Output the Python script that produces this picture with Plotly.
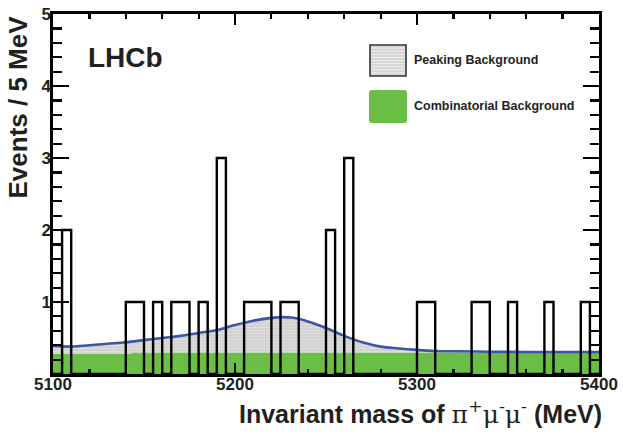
import re
import plotly.graph_objects as go

# ---------------- data ----------------
bin_start = 5100
bin_width = 5
counts = [0, 2, 0, 0, 0, 0, 0, 0, 1, 1,
          0, 1, 0, 1, 1, 0, 1, 0, 3, 0,
          0, 1, 1, 1, 0, 1, 1, 0, 0, 0,
          2, 0, 3, 0, 0, 0, 0, 0, 0, 0,
          1, 1, 0, 0, 0, 0, 1, 1, 0, 0,
          1, 0, 0, 0, 1, 0, 0, 0, 1, 0]

fit_mass = [5100, 5110, 5120, 5130, 5140, 5150, 5160, 5170, 5180, 5190, 5200,
            5210, 5220, 5226, 5232, 5240, 5250, 5260, 5270, 5280, 5290, 5300,
            5310, 5320, 5340, 5360, 5380, 5400]
fit_total = [0.39, 0.38, 0.40, 0.42, 0.44, 0.47, 0.50, 0.53, 0.57, 0.61, 0.68,
             0.74, 0.78, 0.79, 0.78, 0.73, 0.64, 0.53, 0.44, 0.38, 0.355, 0.335,
             0.32, 0.315, 0.31, 0.305, 0.305, 0.305]

comb_mass = [5100, 5143, 5143, 5400]
comb_vals = [0.28, 0.28, 0.30, 0.30]

x_ticks = [5100, 5200, 5300, 5400]
y_ticks = [1, 2, 3, 4, 5]

legend_labels = ["Peaking Background", "Combinatorial Background"]

# ---------------- styles ----------------
FONT = "Liberation Sans, Arial, Helvetica, sans-serif"
TXT = "#231f20"
GREEN = "#6abd45"
BLUE = "#3b56a6"

edges = [bin_start + i * bin_width for i in range(len(counts) + 1)]
step_y = counts + [counts[-1]]

fig = go.Figure()

# combinatorial background (green)
fig.add_trace(go.Scatter(
    x=comb_mass, y=comb_vals, mode="lines",
    line=dict(width=0, color=GREEN),
    fill="tozeroy", fillcolor=GREEN, hoverinfo="skip", showlegend=False))

# peaking background (gray striped) up to total fit (blue line)
fig.add_trace(go.Scatter(
    x=fit_mass, y=fit_total, mode="lines",
    line=dict(width=2.6, color=BLUE, shape="spline", smoothing=1.0),
    fill="tonexty", fillcolor="#d6d6d6",
    fillpattern=dict(shape="-", bgcolor="#d2d2d2", fgcolor="#ededed",
                     size=3, solidity=0.3),
    hoverinfo="skip", showlegend=False))

# data histogram (black step outline)
fig.add_trace(go.Scatter(
    x=edges, y=step_y, mode="lines",
    line=dict(width=2.4, color="black", shape="hv"),
    hoverinfo="skip", showlegend=False))

# ---------------- layout ----------------
L, R, T, B = 53, 24, 14, 64
W, H = 623, 438
pw, ph = W - L - R, H - T - B


def px(xp):
    return (xp - L) / pw


def py(yp):
    return (H - B - yp) / ph


fig.update_layout(
    width=W, height=H, autosize=False,
    margin=dict(l=L, r=R, t=T, b=B, pad=0, autoexpand=False),
    paper_bgcolor="white", plot_bgcolor="white",
    font=dict(family=FONT, color=TXT),
)

fig.update_xaxes(
    range=[5100, 5400], tickvals=x_ticks, ticktext=[str(v) for v in x_ticks],
    ticks="inside", ticklen=11, tickwidth=2.4, tickcolor="black",
    showline=True, linewidth=2.6, linecolor="black", mirror="ticks",
    showgrid=False, zeroline=False, automargin=False, ticklabelstandoff=-7,
    tickfont=dict(family=FONT, size=17, color=TXT, weight="bold"),
    minor=dict(dtick=20, tick0=5100, ticks="inside", ticklen=5,
               tickwidth=2.2, tickcolor="black", showgrid=False),
)
fig.update_yaxes(
    range=[0, 5], tickvals=y_ticks, ticktext=[str(v) for v in y_ticks],
    ticks="inside", ticklen=16, tickwidth=2.4, tickcolor="black",
    showline=True, linewidth=2.6, linecolor="black", mirror="ticks",
    showgrid=False, zeroline=False, automargin=False, ticklabelstandoff=-4,
    tickfont=dict(family=FONT, size=17, color=TXT, weight="bold"),
    minor=dict(dtick=0.2, tick0=0, ticks="inside", ticklen=9,
               tickwidth=2.2, tickcolor="black", showgrid=False),
)

annotations = []
# axis titles
annotations.append(dict(
    text="<b>Events / 5 MeV</b>", textangle=-90, showarrow=False,
    xref="paper", yref="paper", x=px(17), y=py(14), xanchor="center", yanchor="top",
    font=dict(family=FONT, size=26, color=TXT)))
annotations.append(dict(
    text=("<b>Invariant mass of </b>"
          "<span style='font-family:DejaVu Serif, Liberation Serif, serif'>"
          "\u03c0<sup>+</sup>\u03bc<sup>-</sup>\u03bc<sup>-</sup></span>"
          "<b> (MeV)</b>"),
    showarrow=False, xref="paper", yref="paper",
    x=px(604), y=py(412), xanchor="right", yanchor="middle",
    font=dict(family=FONT, size=25, color=TXT)))
# LHCb label
annotations.append(dict(
    text="<b>LHCb</b>", showarrow=False, xref="paper", yref="paper",
    x=px(86), y=py(57), xanchor="left", yanchor="middle",
    font=dict(family=FONT, size=28, color=TXT)))
# legend texts
annotations.append(dict(
    text="<b>%s</b>" % legend_labels[0], showarrow=False, xref="paper", yref="paper",
    x=px(412), y=py(60), xanchor="left", yanchor="middle",
    font=dict(family=FONT, size=12.5, color=TXT)))
annotations.append(dict(
    text="<b>%s</b>" % legend_labels[1], showarrow=False, xref="paper", yref="paper",
    x=px(412), y=py(106), xanchor="left", yanchor="middle",
    font=dict(family=FONT, size=12.5, color=TXT)))

shapes = []
# legend box: peaking background (striped gray)
shapes.append(dict(type="rect", xref="paper", yref="paper",
                   x0=px(370), x1=px(406), y0=py(76), y1=py(45),
                   fillcolor="#d4d4d4", line=dict(width=0)))
for k in range(1, 10):
    yy = 45 + k * 3.1
    shapes.append(dict(type="line", xref="paper", yref="paper",
                       x0=px(370), x1=px(406), y0=py(yy), y1=py(yy),
                       line=dict(color="#f0f0f0", width=1)))
shapes.append(dict(type="rect", xref="paper", yref="paper",
                   x0=px(370), x1=px(406), y0=py(76), y1=py(45),
                   fillcolor="rgba(0,0,0,0)", line=dict(color="#333333", width=1.6)))
# legend box: combinatorial background (green, rounded)
x0, x1, y0, y1, r = 369, 407, 90, 123, 3
path = (f"M {x0 + r},{y0} L {x1 - r},{y0} Q {x1},{y0} {x1},{y0 + r} "
        f"L {x1},{y1 - r} Q {x1},{y1} {x1 - r},{y1} L {x0 + r},{y1} "
        f"Q {x0},{y1} {x0},{y1 - r} L {x0},{y0 + r} Q {x0},{y0} {x0 + r},{y0} Z")


def conv(m):
    a, b = float(m.group(1)), float(m.group(2))
    return f"{px(a):.5f},{py(b):.5f}"


path_paper = re.sub(r"([-\d.]+),([-\d.]+)", conv, path)
shapes.append(dict(type="path", xref="paper", yref="paper", path=path_paper,
                   fillcolor=GREEN, line=dict(width=0)))

fig.update_layout(annotations=annotations, shapes=shapes)

fig.write_html(
    "out.html",
    config={"displayModeBar": False, "staticPlot": True},
    post_script="document.body.style.margin='0';document.body.style.padding='0';"
                "document.body.style.overflow='hidden';")
